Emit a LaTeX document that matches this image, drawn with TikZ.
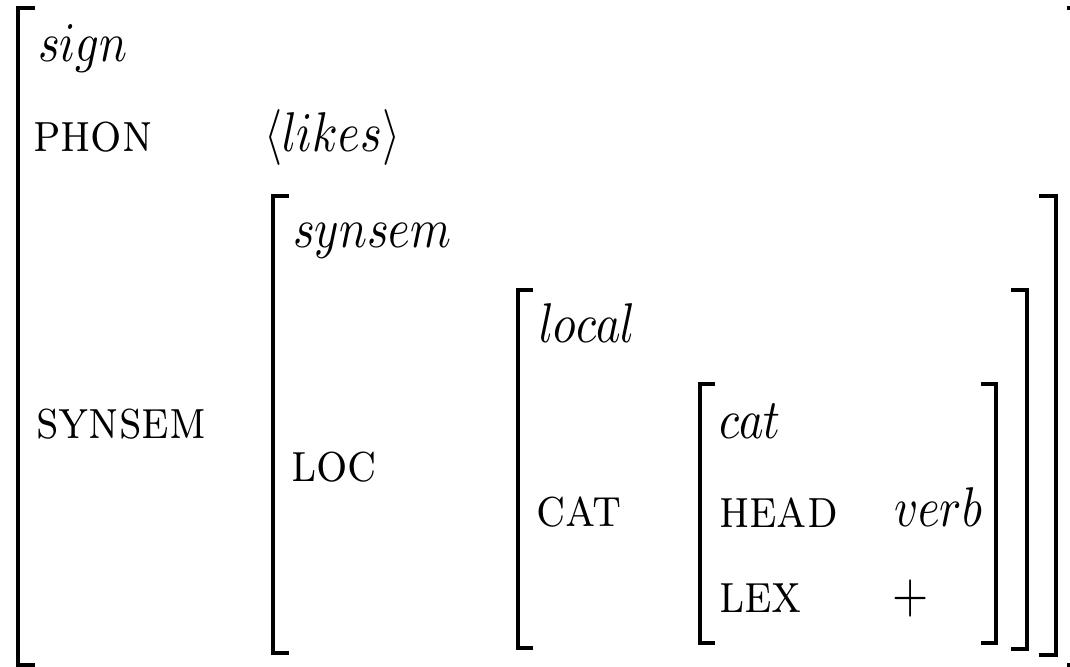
\documentclass[tikz,border=0pt]{standalone}
\usepackage{amsmath,amssymb}
\usepackage{graphicx}
\usepackage{tikz}
\usetikzlibrary{positioning, calc}
\tikzstyle{attr} = [anchor=base west, inner sep=0pt]
\tikzstyle{val} = [anchor=base west, inner sep=0pt]
\tikzstyle{brk} = [line width=.55pt, line cap=butt]
\newcommand{\attrname}[1]{\scalebox{.88}[1]{\textsc{#1}}}
\newcommand{\valname}[1]{\scalebox{.83}[1]{$#1$}}

\begin{document}
\begin{tikzpicture}[x=0.17857pt, y=-0.17857pt]
            \useasboundingbox (0,0) rectangle (1070,667);
            % outer sign
            \node (sign) [val] at (37,62) {\valname{sign}};
            \node (phon) [attr] at (32,152) {\attrname{phon}};
            \node (likes) [val] at (263,152) {\valname{\langle likes \rangle}};
            \node (synsemA) [attr] at (35,439) {\attrname{synsem}};
            % synsem
            \node (synsem) [val] at (292,248) {\valname{synsem}};
            \node (loc) [attr] at (290,482) {\attrname{loc}};
            % local
            \node (local) [val] at (538,343) {\valname{local}};
            \node (catA) [attr] at (535,527) {\attrname{cat}};
            % cat
            \node (cat) [val] at (718,439) {\valname{cat}};
            \node (head) [attr] at (718,528) {\attrname{head}};
            \node (verb) [val] at (893,527) {\valname{verb}};
            \node (lex) [attr] at (718,613) {\attrname{lex}};
            \node (plus) [val] at (891,613) {\valname{+}};

            % brackets
            \draw [brk] (35,8) -| (18,665) -- (35,665);
            \draw [brk] (1067,8) -| (1084,665) -- (1067,665);
            \draw [brk] (289,196) -| (273,653) -- (289,653);
            \draw [brk] (1039,196) -| (1056,655) -- (1039,655);
            \draw [brk] (533,290) -| (518,648) -- (533,648);
            \draw [brk] (1011,290) -| (1027,649) -- (1011,649);
            \draw [brk] (715,384) -| (700,643) -- (715,643);
            \draw [brk] (981,384) -| (996,643) -- (981,643);
        \end{tikzpicture}
\end{document}
